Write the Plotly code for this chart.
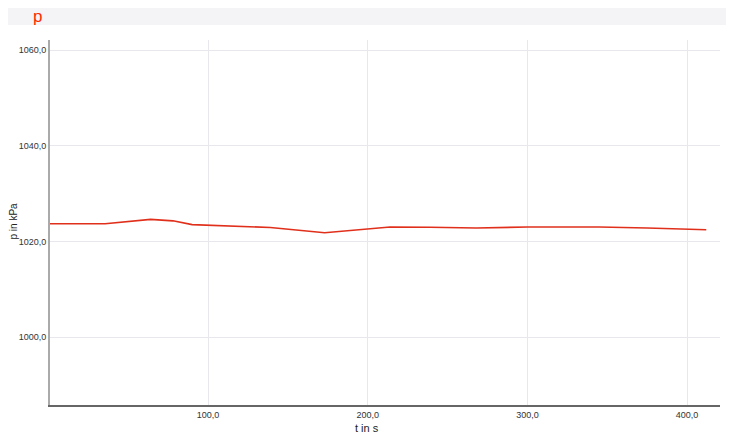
import plotly.graph_objects as go

# Pressure over time
t_values = [1, 35.5, 64, 78, 90, 120, 139, 173, 201, 214, 239, 268, 300, 345, 375, 412]
p_values = [1023.7, 1023.7, 1024.6, 1024.3, 1023.5, 1023.2, 1022.9, 1021.8,
            1022.65, 1023.0, 1022.95, 1022.8, 1023.0, 1023.0, 1022.8, 1022.45]

x_ticks = [100, 200, 300, 400]
y_ticks = [1000, 1020, 1040, 1060]

# Create chart
fig = go.Figure()
fig.add_trace(go.Scatter(
    x=t_values, y=p_values, mode="lines",
    line=dict(color="#e0301c", width=1.6),
))

# Grey title bar behind the title (page is drawn 8px in from the corner)
fig.add_shape(
    type="rect", xref="paper", yref="paper",
    x0=-0.0627, x1=1.0104, y0=1.0411, y1=1.0877,
    fillcolor="#f4f3f6", line=dict(width=0), layer="below",
)

# Axis titles as annotations so they sit where the reference has them
fig.add_annotation(
    text="p in kPa", xref="paper", yref="paper", x=-0.0657, y=0.504,
    xanchor="left", yanchor="middle", textangle=-90, showarrow=False,
    font=dict(size=10, color="#222222"),
)
fig.add_annotation(
    text="t in s", xref="paper", yref="paper", x=0.473, y=-0.063,
    xanchor="center", yanchor="middle", showarrow=False,
    font=dict(size=11, color="#222222"),
)

fig.update_layout(
    width=734, height=440,
    margin=dict(l=42, r=22, t=32, b=43),
    paper_bgcolor="white", plot_bgcolor="white",
    separators=",.",
    showlegend=False,
    font=dict(family="Liberation Sans, Arial, sans-serif", size=9, color="#333333"),
    title=dict(
        text="p", x=25 / 734, xanchor="left", y=1 - 8.5 / 440, yanchor="middle",
        font=dict(size=17, color="#ff2a00", family="Liberation Sans, Arial, sans-serif"),
    ),
    xaxis=dict(
        range=[1, 420.6], tickvals=x_ticks, tickformat=".1f",
        showgrid=True, gridcolor="#e8e8ec", gridwidth=1,
        showline=True, linecolor="#666666", linewidth=2,
        zeroline=False, ticks="", automargin=False,
    ),
    yaxis=dict(
        range=[985.8, 1062.1], tickvals=y_ticks, tickformat=".1f",
        showgrid=True, gridcolor="#e8e8ec", gridwidth=1,
        showline=True, linecolor="#aaaaaa", linewidth=2,
        zeroline=False, ticks="", automargin=False,
    ),
)

fig.write_html("out.html")
